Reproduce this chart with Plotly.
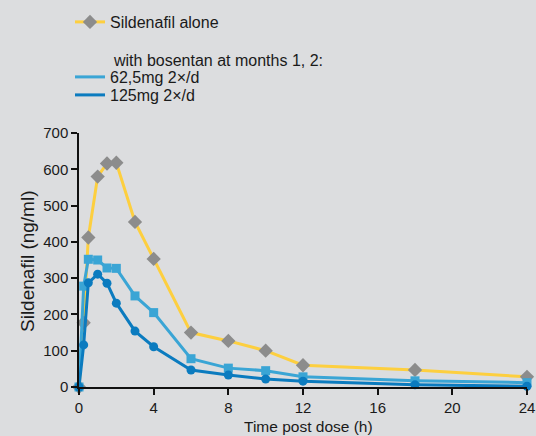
import plotly.graph_objects as go

# Data
time_h = [0, 0.25, 0.5, 1, 1.5, 2, 3, 4, 6, 8, 10, 12, 18, 24]
sildenafil_alone = [0, 177, 412, 580, 616, 618, 455, 353, 150, 127, 100, 60, 47, 28]
bosentan_62_5 = [0, 278, 352, 350, 328, 327, 251, 205, 78, 52, 45, 28, 17, 12]
bosentan_125 = [0, 116, 287, 311, 286, 231, 154, 111, 47, 33, 22, 16, 6, 2]

x_ticks = [0, 4, 8, 12, 16, 20, 24]
y_ticks = [0, 100, 200, 300, 400, 500, 600, 700]

name_alone = "Sildenafil alone"
heading = "with bosentan at months 1, 2:"
name_62 = "62,5mg 2×/d"
name_125 = "125mg 2×/d"
x_title = "Time post dose (h)"
y_title = "Sildenafil (ng/ml)"

YELLOW = "#fdcf3f"
GREY = "#8c8c8c"
LBLUE = "#3aa5d5"
DBLUE = "#0b7bbf"
BG = "#dcdddf"
FONT = "Liberation Sans, Arial, sans-serif"
TXT = "#1a1a1a"

W, H = 536, 436
L, R, T, B = 79, 9, 133, 49
PW, PH = W - L - R, H - T - B

fig = go.Figure()
fig.add_trace(go.Scatter(x=time_h, y=sildenafil_alone, mode="lines+markers", name=name_alone,
                         line=dict(color=YELLOW, width=3),
                         marker=dict(symbol="diamond", size=11, color=GREY),
                         cliponaxis=False, legend="legend"))
fig.add_trace(go.Scatter(x=time_h, y=bosentan_62_5, mode="lines+markers", name=name_62,
                         line=dict(color=LBLUE, width=3),
                         marker=dict(symbol="square", size=9, color=LBLUE),
                         cliponaxis=False, showlegend=False))
fig.add_trace(go.Scatter(x=time_h, y=bosentan_125, mode="lines+markers", name=name_125,
                         line=dict(color=DBLUE, width=3),
                         marker=dict(symbol="circle", size=9, color=DBLUE),
                         cliponaxis=False, showlegend=False))
# legend-only line entries
fig.add_trace(go.Scatter(x=[None], y=[None], mode="lines", name=name_62,
                         line=dict(color=LBLUE, width=3), legend="legend2"))
fig.add_trace(go.Scatter(x=[None], y=[None], mode="lines", name=name_125,
                         line=dict(color=DBLUE, width=3), legend="legend3"))

def leg(xpx, ypx):
    return dict(xref="container", yref="container", x=xpx / W, y=1 - ypx / H,
                xanchor="left", yanchor="middle", bgcolor="rgba(0,0,0,0)",
                font=dict(family=FONT, size=16, color=TXT),
                itemwidth=30, borderwidth=0)

fig.update_layout(
    width=W, height=H,
    margin=dict(l=L, r=R, t=T, b=B, autoexpand=False),
    paper_bgcolor=BG, plot_bgcolor=BG,
    font=dict(family=FONT, size=14, color=TXT),
    legend=leg(70, 22),
    legend2=leg(70, 77),
    legend3=leg(70, 95),
    xaxis=dict(range=[0, 24], tickvals=x_ticks, showgrid=False, zeroline=False,
               showline=True, linecolor="#111", linewidth=1.5,
               ticks="outside", ticklen=6, tickcolor="#111", tickwidth=1.5,
               tickfont=dict(size=15)),
    yaxis=dict(range=[0, 700], tickvals=y_ticks, showgrid=False, zeroline=False,
               showline=True, linecolor="#111", linewidth=1.5,
               ticks="outside", ticklen=6, tickcolor="#111", tickwidth=1.5,
               tickfont=dict(size=15)),
    annotations=[
        dict(text=heading, xref="paper", yref="paper",
             x=(111 - L) / PW, y=(H - B - 60) / PH,
             xanchor="left", yanchor="middle", showarrow=False,
             font=dict(family=FONT, size=16, color=TXT)),
        dict(text=x_title, xref="paper", yref="paper",
             x=(308 - L) / PW, y=(H - B - 426) / PH,
             xanchor="center", yanchor="middle", showarrow=False,
             font=dict(family=FONT, size=15.5, color=TXT)),
        dict(text=y_title, xref="paper", yref="paper", textangle=-90,
             x=(27 - L) / PW, y=(H - B - 261) / PH,
             xanchor="center", yanchor="middle", showarrow=False,
             font=dict(family=FONT, size=19, color=TXT)),
    ],
)

fig.write_html("out.html", config=dict(displayModeBar=False),
               post_script="document.body.style.margin='0';")
